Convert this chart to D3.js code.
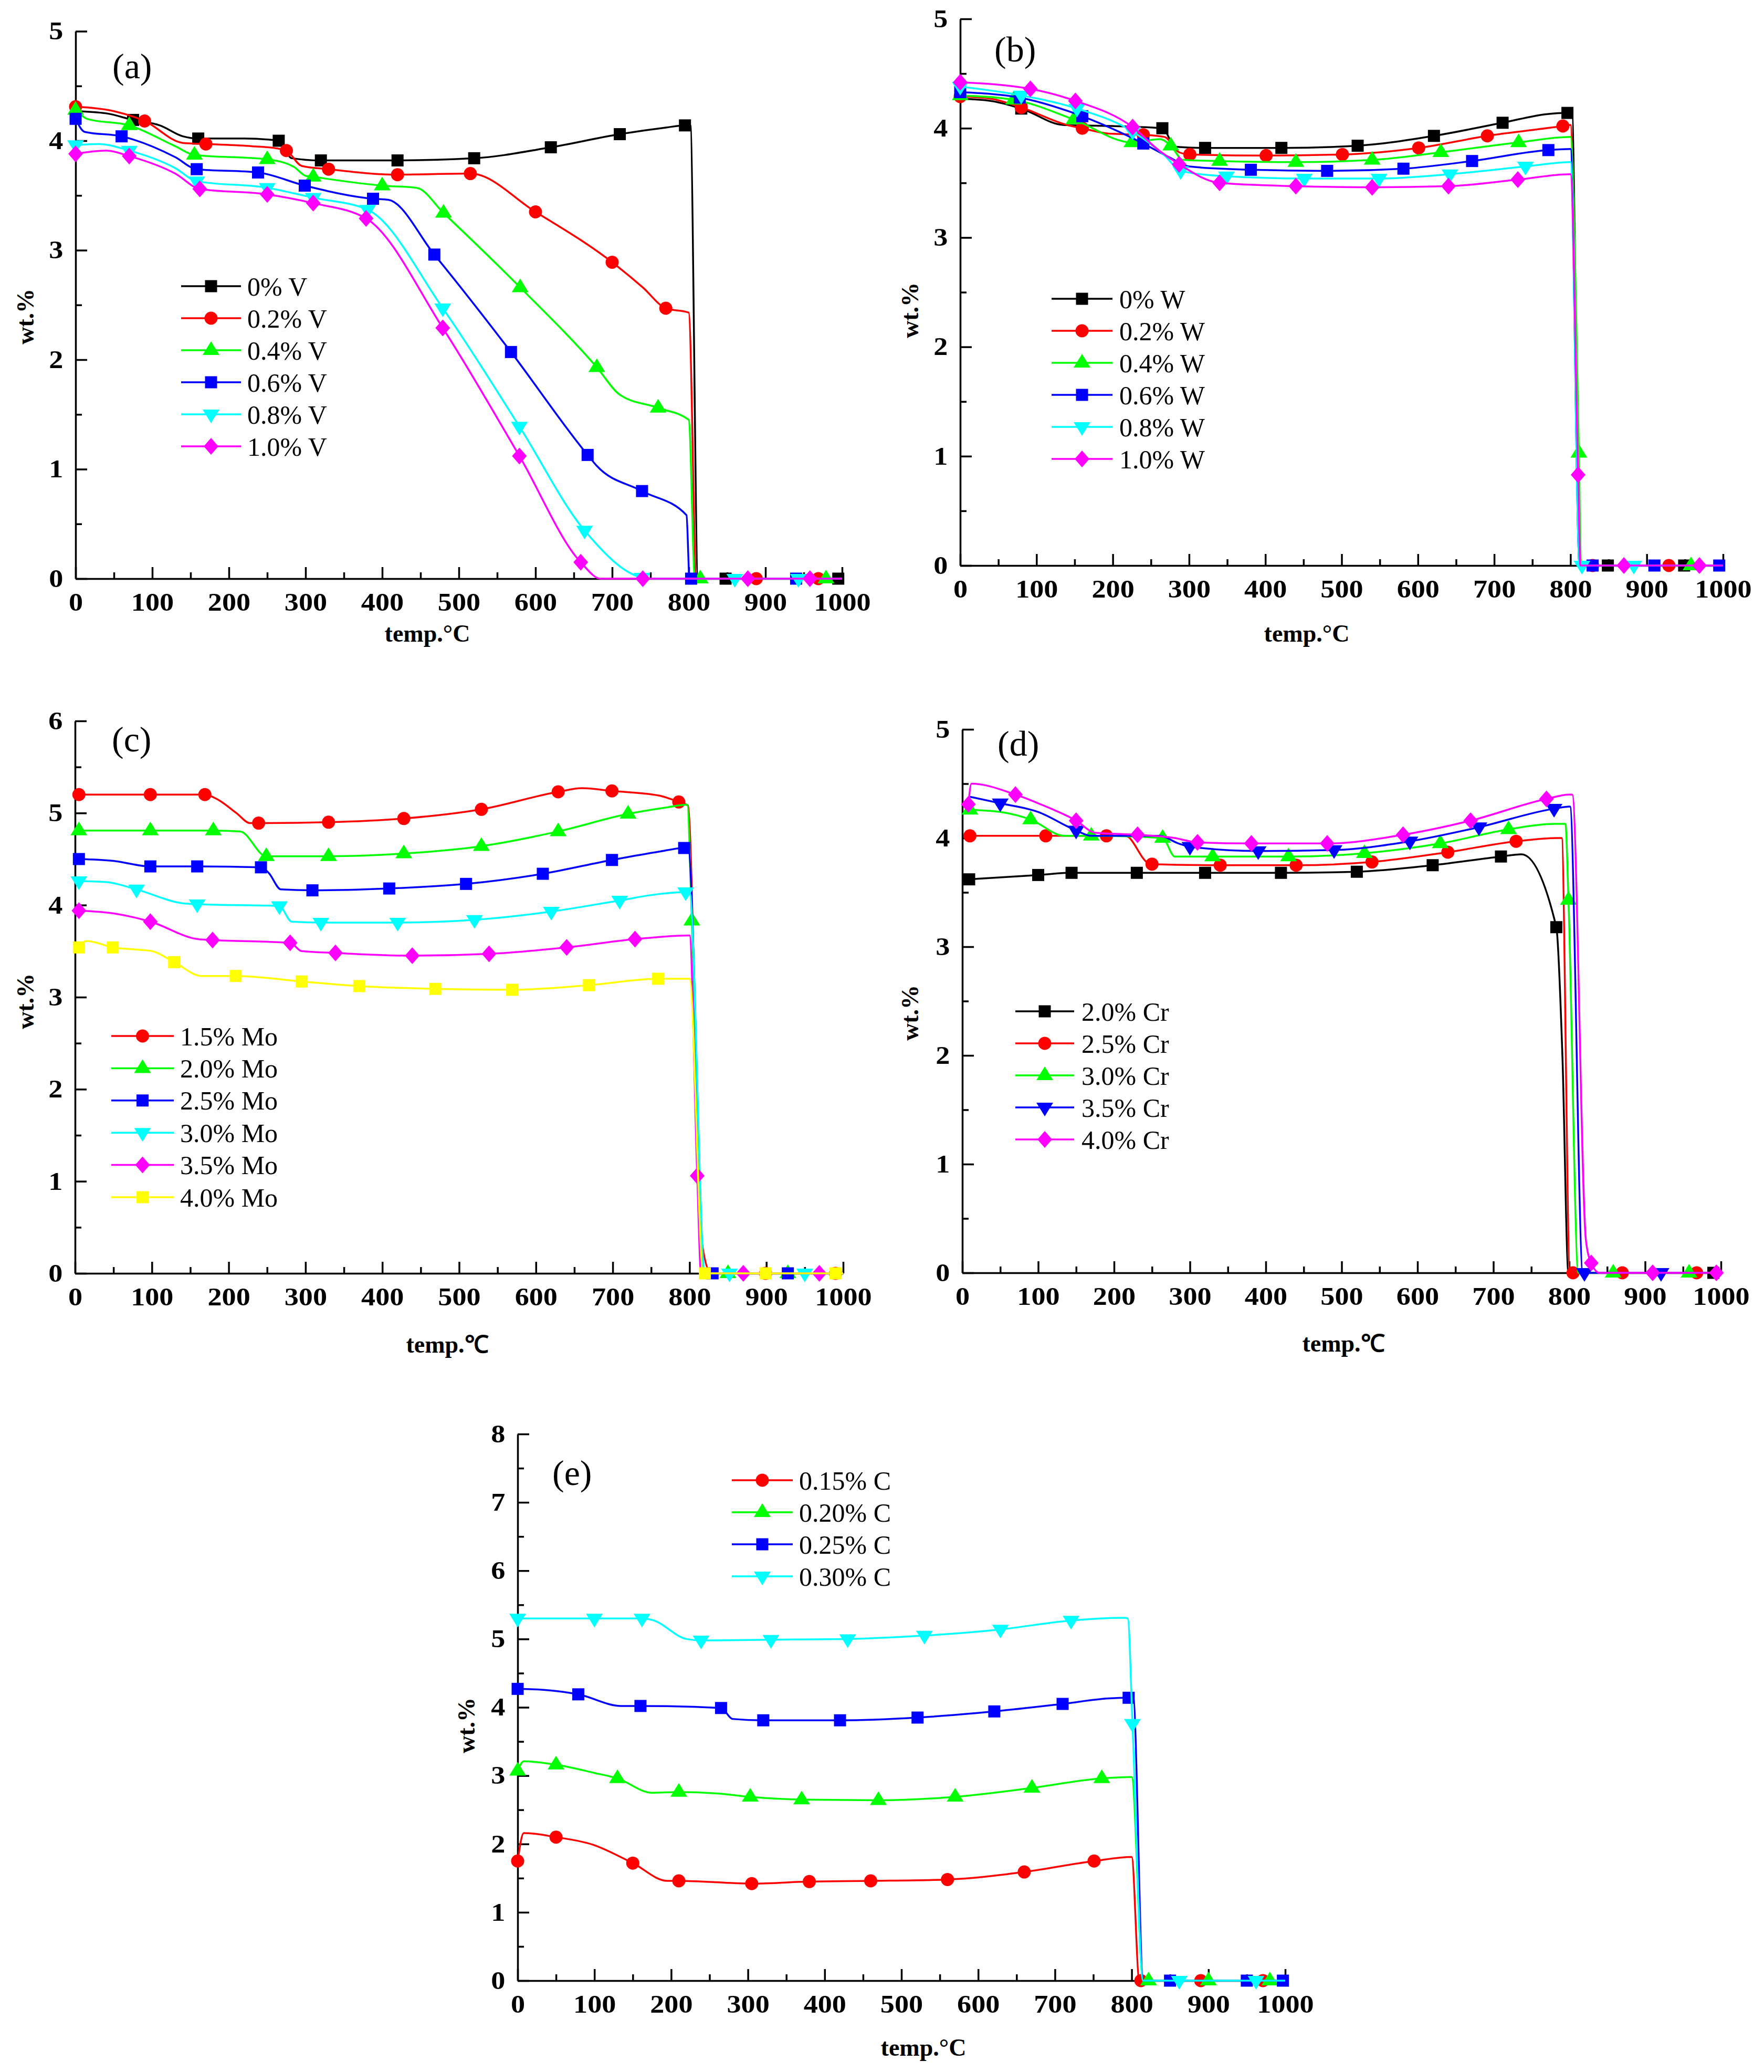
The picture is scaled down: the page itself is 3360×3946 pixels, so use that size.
<!DOCTYPE html>
<html>
<head>
<meta charset="utf-8">
<script src="https://cdn.jsdelivr.net/npm/d3@7/dist/d3.min.js"></script>
<style>
  html, body { margin: 0; padding: 0; background: #ffffff; }
  svg { display: block; }
</style>
</head>
<body>
<script>
// ---------------- DATA ----------------
// Each point: [temperature °C, wt.%, marker flag]
const xTicks = [0, 100, 200, 300, 400, 500, 600, 700, 800, 900, 1000];

// (a) V
const aNames = ["0% V", "0.2% V", "0.4% V", "0.6% V", "0.8% V", "1.0% V"];
const aV0 = [[0,4.27],[40,4.25],[75,4.19,1],[110,4.14],[140,4.04],[160,4.02,1],[220,4.02],[265,4.0,1],[282,3.84],[320,3.82,1],[420,3.82,1],[520,3.84,1],[620,3.94,1],[710,4.06,1],[770,4.12],[795,4.14,1],[802,4.14],[812,0],[848,0,1],[995,0,1],[1000,0]];
const aV02 = [[0,4.31,1],[50,4.27],[90,4.18,1],[140,3.98],[170,3.97,1],[230,3.95],[262,3.93],[275,3.91,1],[295,3.77],[330,3.74,1],[420,3.69,1],[515,3.70,1],[600,3.35,1],[700,2.89,1],[740,2.66],[770,2.47,1],[800,2.43],[810,0],[888,0,1],[969,0,1],[1000,0]];
const aV04 = [[0,4.28,1],[15,4.2],[70,4.14,1],[130,3.95],[155,3.87,1],[250,3.83,1],[285,3.76],[300,3.68],[310,3.67,1],[400,3.59,1],[445,3.57],[480,3.34,1],[580,2.66,1],[680,1.93,1],[710,1.68],[760,1.56,1],[800,1.45],[808,0],[815,0,1],[979,0,1],[1000,0]];
const aV06 = [[0,4.2,1],[12,4.08],[60,4.04,1],[130,3.85],[158,3.74,1],[238,3.71,1],[299,3.59,1],[388,3.47,1],[408,3.46],[468,2.96,1],[568,2.07,1],[668,1.13,1],[680,1.03],[739,0.8,1],[797,0.58],[801,0],[803,0,1],[940,0,1],[1000,0]];
const aV08 = [[0,3.96,1],[30,3.97],[70,3.91,1],[130,3.75],[158,3.63,1],[250,3.57,1],[310,3.48,1],[381,3.37,1],[479,2.47,1],[579,1.39,1],[664,0.44,1],[739,0.01,1],[752,0],[860,0,1],[943,0,1],[1000,0]];
const aV10 = [[0,3.88,1],[40,3.91],[70,3.86,1],[130,3.7],[162,3.56,1],[250,3.51,1],[310,3.43,1],[379,3.29,1],[479,2.29,1],[579,1.12,1],[659,0.15,1],[685,0],[740,0,1],[877,0,1],[958,0,1],[1000,0]];

// (b) W
const bNames = ["0% W", "0.2% W", "0.4% W", "0.6% W", "0.8% W", "1.0% W"];
const bW0 = [[0,4.27],[40,4.25],[80,4.18,1],[135,4.03],[200,4.02],[265,4.0,1],[282,3.83],[321,3.82,1],[421,3.82,1],[521,3.84,1],[621,3.93,1],[711,4.05,1],[770,4.13],[796,4.14,1],[802,4.14],[812,0],[849,0,1],[949,0,1],[1000,0]];
const bW02 = [[0,4.29,1],[40,4.27],[80,4.19,1],[140,4.03],[160,4.0,1],[195,3.95],[240,3.94,1],[268,3.92],[287,3.78],[301,3.76,1],[401,3.75,1],[501,3.76,1],[601,3.82,1],[691,3.93,1],[790,4.02,1],[800,4.03],[812,0],[829,0,1],[929,0,1],[1000,0]];
const bW04 = [[0,4.3,1],[70,4.26,1],[149,4.08,1],[225,3.87,1],[262,3.9],[276,3.84,1],[292,3.71],[340,3.7,1],[440,3.69,1],[540,3.71,1],[630,3.78,1],[732,3.87,1],[800,3.92],[811,1.03,1],[814,0],[958,0,1],[1000,0]];
const bW06 = [[0,4.33,1],[78,4.28,1],[160,4.11,1],[240,3.86,1],[275,3.73],[300,3.65],[381,3.62,1],[481,3.61,1],[581,3.63,1],[671,3.7,1],[771,3.8,1],[800,3.81],[812,0],[829,0,1],[910,0,1],[995,0,1],[1000,0]];
const bW08 = [[0,4.38,1],[80,4.3,1],[153,4.18,1],[226,3.97,1],[268,3.75],[289,3.61,1],[349,3.56,1],[451,3.54,1],[549,3.54,1],[642,3.58,1],[741,3.65,1],[800,3.69],[812,0],[815,0,1],[883,0,1],[1000,0]];
const bW10 = [[0,4.42,1],[92,4.36,1],[151,4.25,1],[226,4.01,1],[260,3.8],[287,3.67,1],[340,3.5,1],[440,3.47,1],[540,3.46,1],[640,3.47,1],[731,3.53,1],[800,3.58],[810,0.83,1],[813,0],[870,0,1],[969,0,1],[1000,0]];

// (c) Mo
const cNames = ["1.5% Mo", "2.0% Mo", "2.5% Mo", "3.0% Mo", "3.5% Mo", "4.0% Mo"];
const cMo15 = [[5,5.2,1],[98,5.2,1],[169,5.2,1],[185,5.15],[210,5.0],[228,4.89],[239,4.89,1],[330,4.9,1],[428,4.94,1],[529,5.04,1],[629,5.23,1],[660,5.27],[699,5.24,1],[760,5.19],[786,5.12,1],[798,5.08],[815,0.4],[828,0],[899,0,1],[990,0,1],[1000,0]];
const cMo20 = [[5,4.81,1],[98,4.81,1],[180,4.81,1],[215,4.8],[249,4.53,1],[330,4.53,1],[428,4.56,1],[529,4.64,1],[629,4.8,1],[720,4.99,1],[770,5.06],[797,5.09],[803,3.83,1],[818,0],[850,0,1],[928,0,1],[1000,0]];
const cMo25 = [[5,4.5,1],[50,4.48],[98,4.42,1],[159,4.42,1],[242,4.41,1],[252,4.35],[268,4.17],[309,4.16,1],[409,4.18,1],[509,4.23,1],[609,4.34,1],[699,4.49,1],[760,4.58],[793,4.62,1],[798,4.62],[820,0],[830,0,1],[928,0,1],[1000,0]];
const cMo30 = [[5,4.26,1],[40,4.25],[80,4.17,1],[140,4.02],[159,4.01,1],[266,3.99,1],[282,3.82],[320,3.81,1],[420,3.81,1],[520,3.84,1],[620,3.93,1],[709,4.05,1],[760,4.12],[795,4.14,1],[800,4.14],[820,0],[852,0,1],[950,0,1],[1000,0]];
const cMo35 = [[5,3.94,1],[50,3.91],[98,3.82,1],[160,3.63],[179,3.62,1],[280,3.59,1],[295,3.5],[339,3.48,1],[439,3.45,1],[539,3.47,1],[640,3.54,1],[729,3.63,1],[800,3.67],[810,1.06,1],[815,0],[870,0,1],[969,0,1],[1000,0]];
const cMo40 = [[5,3.54,1],[15,3.61],[49,3.54,1],[100,3.5],[129,3.38,1],[165,3.23],[209,3.23,1],[295,3.17,1],[370,3.12,1],[469,3.09,1],[569,3.08,1],[669,3.13,1],[759,3.2,1],[800,3.2],[818,0],[820,0,1],[899,0,1],[990,0,1],[1000,0]];

// (d) Cr
const dNames = ["2.0% Cr", "2.5% Cr", "3.0% Cr", "3.5% Cr", "4.0% Cr"];
const dCr20 = [[9,3.62,1],[100,3.66,1],[144,3.68,1],[230,3.68,1],[320,3.68,1],[420,3.68,1],[520,3.69,1],[620,3.75,1],[710,3.83,1],[737,3.85],[783,3.18,1],[791,2.0],[799,0],[990,0,1],[1000,0]];
const dCr25 = [[10,4.02,1],[110,4.02,1],[190,4.02,1],[215,4.02],[245,3.77],[250,3.76,1],[340,3.75,1],[440,3.75,1],[540,3.78,1],[640,3.87,1],[730,3.97,1],[785,4.0],[790,4.0],[801,0],[805,0,1],[870,0,1],[968,0,1],[1000,0]];
const dCr30 = [[10,4.26,1],[50,4.24],[90,4.17,1],[135,4.02],[170,4.02,1],[264,4.0,1],[280,3.83],[330,3.83,1],[430,3.83,1],[530,3.86,1],[630,3.95,1],[720,4.08,1],[780,4.13],[795,4.13],[799,3.43,1],[812,0],[858,0,1],[958,0,1],[1000,0]];
const dCr35 = [[10,4.38],[50,4.32,1],[100,4.24],[150,4.07,1],[170,4.02],[260,4.02],[285,3.95],[300,3.92,1],[390,3.88,1],[490,3.89,1],[590,3.97,1],[681,4.1,1],[780,4.27,1],[801,4.29],[818,0],[820,0,1],[921,0,1],[1000,0]];
const dCr40 = [[8,4.31,1],[12,4.5],[70,4.4,1],[100,4.32],[150,4.16,1],[175,4.05],[231,4.03,1],[280,4.0],[310,3.96,1],[381,3.95,1],[481,3.95,1],[581,4.03,1],[670,4.16,1],[770,4.36,1],[800,4.4],[804,4.4],[822,0.3],[829,0.09,1],[840,0],[910,0,1],[994,0,1],[1000,0]];

// (e) C
const eNames = ["0.15% C", "0.20% C", "0.25% C", "0.30% C"];
const eC015 = [[0,1.75,1],[8,2.16],[50,2.1,1],[98,1.99],[150,1.72,1],[195,1.46],[210,1.46,1],[305,1.42,1],[380,1.45,1],[460,1.46,1],[560,1.48,1],[660,1.59,1],[751,1.75,1],[800,1.81],[810,0],[812,0,1],[890,0,1],[971,0,1],[1000,0]];
const eC020 = [[0,3.07,1],[8,3.21],[50,3.16,1],[100,3.04],[130,2.96,1],[175,2.75],[210,2.76,1],[260,2.74],[303,2.69,1],[370,2.65,1],[470,2.64,1],[570,2.69,1],[670,2.82,1],[761,2.96,1],[800,2.98],[815,0],[822,0,1],[900,0,1],[980,0,1],[1000,0]];
const eC025 = [[0,4.27,1],[40,4.25],[79,4.19,1],[135,4.02],[160,4.02,1],[265,3.99,1],[280,3.83],[320,3.81,1],[420,3.81,1],[521,3.85,1],[621,3.94,1],[710,4.05,1],[770,4.13],[796,4.14,1],[802,4.14],[815,0],[850,0,1],[950,0,1],[997,0,1],[1000,0]];
const eC030 = [[0,5.3,1],[100,5.3,1],[162,5.3,1],[175,5.28],[220,5.0],[239,4.98,1],[330,4.99,1],[430,5.0,1],[530,5.05,1],[629,5.14,1],[721,5.27,1],[790,5.31],[795,5.3],[801,3.76,1],[815,0],[862,0,1],[962,0,1],[1000,0]];

// ---------------- STYLE / LAYOUT ----------------
const C = { black: "#000000", red: "#ff0000", green: "#00ff00", blue: "#0000ff", cyan: "#00ffff", magenta: "#ff00ff", yellow: "#ffff00" };
const FONT = "'Liberation Serif', 'Times New Roman', Times, serif";

const symPaths = {
  square: "M-11.5,-11.5H11.5V11.5H-11.5Z",
  circle: d3.symbol(d3.symbolCircle, Math.PI * 12.5 * 12.5)(),
  up: "M0,-17L16,9L-16,9Z",
  down: "M0,17L16,-9L-16,-9Z",
  diamond: "M0,-16L14,0L0,16L-14,0Z"
};

const panels = [
  { label: "(a)", lx: 214, ly: 149, x0: 144, x1: 1604, yb: 1102, yt: 59.5, ymax: 5,
    series: [aV0, aV02, aV04, aV06, aV08, aV10], names: aNames,
    colors: [C.black, C.red, C.green, C.blue, C.cyan, C.magenta],
    syms: ["square", "circle", "up", "square", "down", "diamond"],
    leg: { y0: 545, dy: 61, l0: 345, l1: 459, tx: 471 },
    wt: [48, 603], temp: [814, 1206], tempText: "temp.°C" },
  { label: "(b)", lx: 1894, ly: 117, x0: 1829, x1: 3282, yb: 1077, yt: 36, ymax: 5,
    series: [bW0, bW02, bW04, bW06, bW08, bW10], names: bNames,
    colors: [C.black, C.red, C.green, C.blue, C.cyan, C.magenta],
    syms: ["square", "circle", "up", "square", "down", "diamond"],
    leg: { y0: 569, dy: 61, l0: 2003, l1: 2119, tx: 2132 },
    wt: [1733, 591], temp: [2489, 1206], tempText: "temp.°C" },
  { label: "(c)", lx: 213, ly: 1431, x0: 143, x1: 1606, yb: 2425, yt: 1373, ymax: 6,
    series: [cMo15, cMo20, cMo25, cMo30, cMo35, cMo40], names: cNames,
    colors: [C.red, C.green, C.blue, C.cyan, C.magenta, C.yellow],
    syms: ["circle", "up", "square", "down", "diamond", "square"],
    leg: { y0: 1973, dy: 61.4, l0: 212, l1: 331, tx: 343 },
    wt: [48, 1907], temp: [852, 2560], tempText: "temp.\u2103" },
  { label: "(d)", lx: 1900, ly: 1439, x0: 1833, x1: 3278, yb: 2424, yt: 1389, ymax: 5,
    series: [dCr20, dCr25, dCr30, dCr35, dCr40], names: dNames,
    colors: [C.black, C.red, C.green, C.blue, C.magenta],
    syms: ["square", "circle", "up", "down", "diamond"],
    leg: { y0: 1926, dy: 61, l0: 1934, l1: 2046, tx: 2060 },
    wt: [1733, 1929], temp: [2559, 2558], tempText: "temp.\u2103" },
  { label: "(e)", lx: 1052, ly: 2828, x0: 986, x1: 2448, yb: 3772, yt: 2731, ymax: 8,
    series: [eC015, eC020, eC025, eC030], names: eNames,
    colors: [C.red, C.green, C.blue, C.cyan],
    syms: ["circle", "up", "square", "down"],
    leg: { y0: 2819, dy: 61, l0: 1394, l1: 1510, tx: 1522 },
    wt: [888, 3286], temp: [1759, 3899], tempText: "temp.°C" }
];

// ---------------- DRAW ----------------
const svg = d3.select("body").append("svg")
  .attr("width", 3360).attr("height", 3946)
  .style("font-family", FONT);
svg.append("rect").attr("width", 3360).attr("height", 3946).attr("fill", "#ffffff");

panels.forEach(p => {
  const g = svg.append("g");
  const x = d3.scaleLinear().domain([0, 1000]).range([p.x0, p.x1]);
  const y = d3.scaleLinear().domain([0, p.ymax]).range([p.yb, p.yt]);

  // minor ticks
  g.append("g").attr("transform", `translate(0,${p.yb})`)
    .call(d3.axisBottom(x).tickValues(d3.range(50, 1000, 100)).tickSize(-12).tickSizeOuter(0).tickFormat(""))
    .call(a => a.select(".domain").remove());
  g.append("g").attr("transform", `translate(${p.x0},0)`)
    .call(d3.axisLeft(y).tickValues(d3.range(0.5, p.ymax, 1)).tickSize(-12).tickSizeOuter(0).tickFormat(""))
    .call(a => a.select(".domain").remove());

  // major axes
  const xa = g.append("g").attr("transform", `translate(0,${p.yb})`)
    .call(d3.axisBottom(x).tickValues(xTicks).tickSize(-22).tickSizeOuter(0).tickPadding(27).tickFormat(d3.format("d")));
  const ya = g.append("g").attr("transform", `translate(${p.x0},0)`)
    .call(d3.axisLeft(y).tickValues(d3.range(0, p.ymax + 1, 1)).tickSize(-22).tickSizeOuter(0).tickPadding(21).tickFormat(d3.format("d")));

  g.selectAll(".domain, .tick line").attr("stroke", "#000").attr("stroke-width", 3.5);
  [xa, ya].forEach(a => a.selectAll("text")
    .attr("font-family", FONT).attr("font-size", 48).attr("font-weight", "bold").attr("fill", "#000")
    .attr("transform", "scale(1.13,1)"));

  // axis titles
  g.append("text").attr("x", p.temp[0]).attr("y", p.temp[1]).attr("text-anchor", "middle")
    .attr("dy", "0.35em").attr("font-size", 46).attr("font-weight", "bold").text(p.tempText);
  g.append("text").attr("transform", `translate(${p.wt[0]},${p.wt[1]}) rotate(-90)`)
    .attr("text-anchor", "middle").attr("dy", "0.35em")
    .attr("font-size", 46).attr("font-weight", "bold").text("wt.%");

  // panel label
  g.append("text").attr("x", p.lx).attr("y", p.ly).attr("font-size", 68).text(p.label);

  // series
  const line = d3.line().x(d => x(d[0])).y(d => y(d[1])).curve(d3.curveMonotoneX);
  p.series.forEach((s, i) => {
    const col = p.colors[i];
    g.append("path").datum(s).attr("d", line)
      .attr("fill", "none").attr("stroke", col).attr("stroke-width", 3.5).attr("stroke-linejoin", "round");
    g.selectAll(null).data(s.filter(d => d[2] === 1)).enter().append("path")
      .attr("d", symPaths[p.syms[i]])
      .attr("transform", d => `translate(${x(d[0])},${y(d[1])})`)
      .attr("fill", col);
  });

  // legend
  const L = p.leg;
  p.names.forEach((n, i) => {
    const yy = L.y0 + i * L.dy;
    g.append("line").attr("x1", L.l0).attr("x2", L.l1).attr("y1", yy).attr("y2", yy)
      .attr("stroke", p.colors[i]).attr("stroke-width", 3.5);
    g.append("path").attr("d", symPaths[p.syms[i]])
      .attr("transform", `translate(${(L.l0 + L.l1) / 2},${yy})`).attr("fill", p.colors[i]);
    g.append("text").attr("x", L.tx).attr("y", yy).attr("dy", "0.35em")
      .attr("font-size", 50).attr("fill", "#000").text(n);
  });
});
</script>
</body>
</html>
